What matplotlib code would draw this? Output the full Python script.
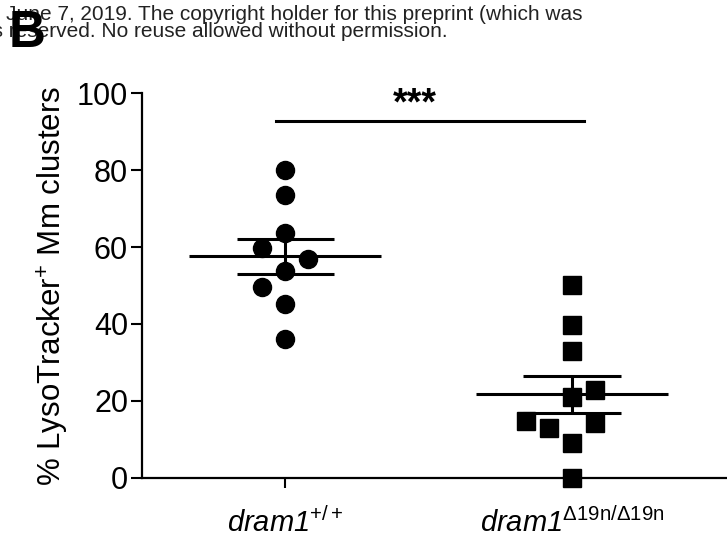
"""
Dot plot: % LysoTracker+ Mm clusters, dram1 wild type vs dram1 Δ19n mutant
mean ± SEM with significance bar
"""

import numpy as np
import matplotlib
matplotlib.use("Agg")
import matplotlib.pyplot as plt

plt.rcParams["font.family"] = ["Liberation Sans", "DejaVu Sans"]
# italic gene names (digits too), upright superscripts through \mathsf
plt.rcParams["mathtext.fontset"] = "custom"
plt.rcParams["mathtext.rm"] = "Liberation Sans:italic"
plt.rcParams["mathtext.it"] = "Liberation Sans:italic"
plt.rcParams["mathtext.sf"] = "Liberation Sans"
plt.rcParams["mathtext.bf"] = "Liberation Sans:bold"

# ── Data ──────────────────────────────────────────────────────
groups = [r"$\mathrm{dram1}^{\mathsf{+/+}}$",
          r"$\mathrm{dram1}^{\mathsf{Δ19n/Δ19n}}$"]
wt_values = [80.0, 73.5, 63.6, 59.7, 56.9, 53.8, 49.7, 45.2, 36.1]
mut_values = [50.0, 39.7, 33.1, 22.9, 21.1, 14.8, 13.1, 14.2, 9.0, 0.0]
yticks = [0, 20, 40, 60, 80, 100]
signif = "***"

# beeswarm columns (in marker widths) so overlapping points sit side by side
wt_cols = [0, 0, 0, -1, 1, 0, -1, 0, 0]
mut_cols = [0, 0, 0, 1, 0, -2, -1, 1, 0, 0]
STEP = 0.08


def mean_sem(v):
    v = np.asarray(v)
    return v.mean(), v.std(ddof=1) / np.sqrt(len(v))


fig = plt.figure(figsize=(7.27, 5.42), dpi=100)
ax = fig.add_axes([0.1953, 0.1181, 0.8047, 0.7103])

for i, (vals, cols, marker) in enumerate(
        [(wt_values, wt_cols, "o"), (mut_values, mut_cols, "s")], start=1):
    xs = i + np.array(cols) * STEP
    ax.plot(xs, vals, linestyle="none", marker=marker, ms=13,
            color="black", clip_on=False, zorder=3)
    m, s = mean_sem(vals)
    ax.hlines(m, i - 0.335, i + 0.335, color="black", lw=2.2, zorder=4)
    ax.hlines([m - s, m + s], i - 0.17, i + 0.17, color="black", lw=2.2, zorder=4)
    ax.vlines(i, m - s, m + s, color="black", lw=2.2, zorder=4)

# significance bar
ax.plot([0.969, 2.04], [92.7, 92.7], color="black", lw=2.2, clip_on=False)
ax.text(1.45, 94.5, signif, ha="center", va="baseline", fontsize=27,
        fontweight="bold")

ax.set_xlim(0.5, 2.54)
ax.set_ylim(0, 100)
ax.set_yticks(yticks)
ax.set_yticklabels([str(t) for t in yticks], fontsize=22)
ax.set_xticks([1, 2])
ax.set_xticklabels(groups, fontsize=21)
ax.tick_params(axis="y", length=8, width=1.5, pad=2)
ax.tick_params(axis="x", length=7, width=1.5, pad=14)

for side in ["top", "right"]:
    ax.spines[side].set_visible(False)
for side in ["left", "bottom"]:
    ax.spines[side].set_linewidth(1.6)

ax.set_ylabel(r"% LysoTracker$^{\mathsf{+}}$ Mm clusters", fontsize=22.5,
              labelpad=4)

# preprint header and panel letter
fig.text(0.0083, 1 - 20 / 542,
         "June 7, 2019. The copyright holder for this preprint (which was",
         ha="left", va="baseline", fontsize=15, color="#222222")
fig.text(-0.1054, 1 - 37 / 542,
         "All rights reserved. No reuse allowed without permission.",
         ha="left", va="baseline", fontsize=15, color="#222222")
fig.text(0.0124, 1 - 47 / 542, "B", ha="left", va="baseline", fontsize=37,
         fontweight="bold", color="black")

fig.savefig("out.png", dpi=100)
